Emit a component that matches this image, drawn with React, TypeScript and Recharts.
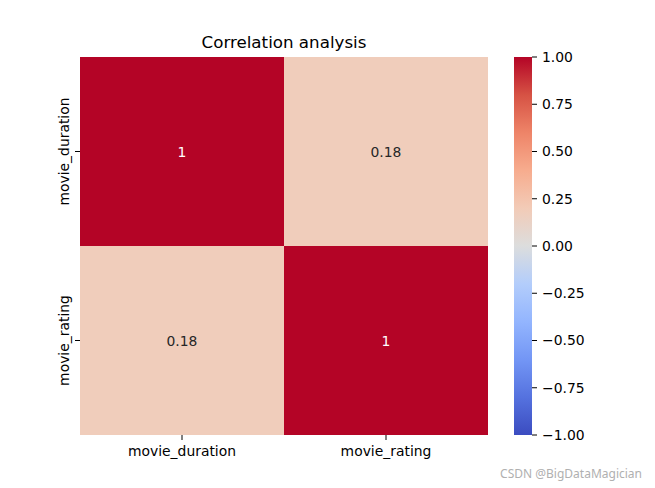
import { BarChart, Bar, XAxis, YAxis, Cell, LabelList } from "recharts"

// Correlation heatmap (seaborn-style) + coolwarm colorbar.

const VARS = ["movie_duration", "movie_rating"]
// rows of the correlation matrix, top row first
const ROW_DURATION = [1, 0.18]
const ROW_RATING = [0.18, 1]
const CBAR_TICKS = [-1, -0.75, -0.5, -0.25, 0, 0.25, 0.5, 0.75, 1]

// matplotlib coolwarm sampled at 0, 0.1, ... 1
const COOLWARM = [
  "#3b4cc0", "#5572df", "#7396f5", "#93b5fe", "#b3cdfb", "#dcdddd",
  "#f2cbb7", "#f7ac8e", "#ee8468", "#d65244", "#b40426",
]

const FONT = "'DejaVu Sans', sans-serif"

function hex(c: string) {
  return [1, 3, 5].map((i) => parseInt(c.slice(i, i + 2), 16))
}

function coolwarm(v: number) {
  const t = Math.min(1, Math.max(0, (v + 1) / 2)) * (COOLWARM.length - 1)
  const i = Math.min(COOLWARM.length - 2, Math.floor(t))
  const f = t - i
  const a = hex(COOLWARM[i])
  const b = hex(COOLWARM[i + 1])
  const m = a.map((x, k) => Math.round(x + (b[k] - x) * f))
  return `rgb(${m[0]},${m[1]},${m[2]})`
}

// one stacked column per variable; each row is a unit-height segment
const data = VARS.map((name, j) => ({
  name,
  top: 1,
  bottom: 1,
  vTop: ROW_DURATION[j],
  vBottom: ROW_RATING[j],
}))

const cbarData = [{ name: "cbar", range: [-1, 1] }]

const fmtCbar = (v: number) => (v < 0 ? "\u2212" + Math.abs(v).toFixed(2) : v.toFixed(2))

function cellLabel(key: "vTop" | "vBottom") {
  return (props: any) => {
    const { x, y, width, height, index } = props
    const v = data[index][key]
    return (
      <text
        x={x + width / 2}
        y={y + height / 2}
        textAnchor="middle"
        dominantBaseline="central"
        fontSize={13.9}
        fontFamily={FONT}
        fill={Math.abs(v) > 0.6 ? "#ffffff" : "#262626"}
      >
        {String(v)}
      </text>
    )
  }
}

function XTick(props: any) {
  const { x, y, payload } = props
  return (
    <text x={x} y={y} dy="0.71em" textAnchor="middle" fontSize={13.9} fontFamily={FONT} fill="#000">
      {payload.value}
    </text>
  )
}

function YTick(props: any) {
  const { x, y, payload } = props
  const label = payload.value > 1 ? VARS[0] : VARS[1]
  return (
    <text
      x={x}
      y={y}
      transform={`rotate(-90, ${x}, ${y})`}
      textAnchor="middle"
      fontSize={13.9}
      fontFamily={FONT}
      fill="#000"
    >
      {label}
    </text>
  )
}

export default function App() {
  return (
    <div style={{ position: "absolute", left: 0, top: 0, width: 655, height: 488, background: "#fff" }}>
      <div
        style={{
          position: "absolute",
          left: 80,
          width: 408,
          top: 31,
          lineHeight: "22px",
          textAlign: "center",
          fontFamily: FONT,
          fontSize: 16.7,
          color: "#000",
        }}
      >
        Correlation analysis
      </div>

      <div style={{ position: "absolute", left: 0, top: 0 }}>
        <BarChart
          width={655}
          height={488}
          data={data}
          barCategoryGap={0}
          barGap={0}
          margin={{ top: 57, right: 167, bottom: 23, left: 50 }}
        >
          <XAxis
            dataKey="name"
            axisLine={false}
            tickSize={5}
            tickMargin={6}
            tickLine={{ stroke: "#000" }}
            tick={<XTick />}
            height={30}
            interval={0}
          />
          <YAxis
            type="number"
            domain={[0, 2]}
            ticks={[0.5, 1.5]}
            axisLine={false}
            tickSize={5}
            tickMargin={6}
            tickLine={{ stroke: "#000" }}
            tick={<YTick />}
            width={30}
          />
          <Bar dataKey="bottom" stackId="m" isAnimationActive={false}>
            {data.map((d) => (
              <Cell key={d.name} fill={coolwarm(d.vBottom)} />
            ))}
            <LabelList dataKey="vBottom" content={cellLabel("vBottom")} />
          </Bar>
          <Bar dataKey="top" stackId="m" isAnimationActive={false}>
            {data.map((d) => (
              <Cell key={d.name} fill={coolwarm(d.vTop)} />
            ))}
            <LabelList dataKey="vTop" content={cellLabel("vTop")} />
          </Bar>
        </BarChart>
      </div>

      <div style={{ position: "absolute", left: 0, top: 0 }}>
        <BarChart
          width={655}
          height={488}
          data={cbarData}
          barCategoryGap={0}
          margin={{ top: 57, right: 63, bottom: 53, left: 514 }}
        >
          <defs>
            {/* top of the bar is +1 (red), bottom is -1 (blue); offsets must increase */}
            <linearGradient id="coolwarm" x1="0" y1="0" x2="0" y2="1">
              {[...COOLWARM].reverse().map((c, i) => (
                <stop key={c} offset={i / (COOLWARM.length - 1)} stopColor={c} />
              ))}
            </linearGradient>
          </defs>
          <XAxis dataKey="name" hide />
          <YAxis
            yAxisId={0}
            orientation="right"
            type="number"
            domain={[-1, 1]}
            ticks={CBAR_TICKS}
            tickFormatter={fmtCbar}
            axisLine={false}
            tickSize={5}
            tickMargin={5}
            tickLine={{ stroke: "#000" }}
            tick={{ fontSize: 13.9, fontFamily: FONT, fill: "#000" }}
            width={60}
            interval={0}
          />
          <Bar dataKey="range" fill="url(#coolwarm)" isAnimationActive={false} />
        </BarChart>
      </div>

      <div
        style={{
          position: "absolute",
          right: 13,
          top: 466,
          fontFamily: "'Noto Sans', sans-serif",
          fontSize: 12,
          color: "#b0b0b0",
          lineHeight: "16px",
        }}
      >
        CSDN @BigDataMagician
      </div>
    </div>
  )
}
